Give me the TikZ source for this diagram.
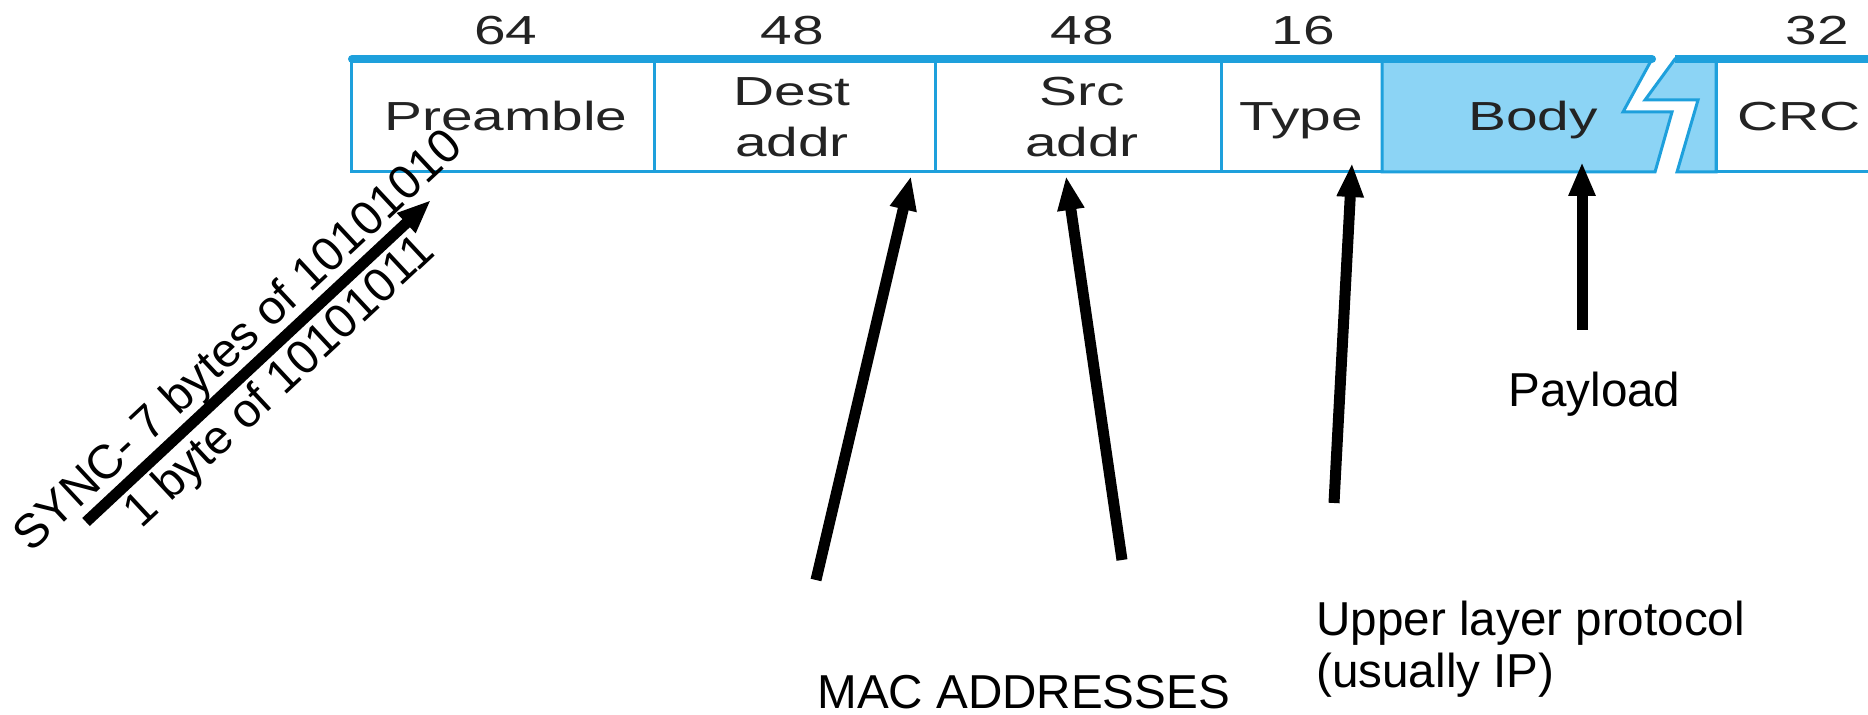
\documentclass[tikz,border=0pt]{standalone}
\usepackage{fontspec}
\setmainfont{Liberation Sans}
\usepackage{graphicx}
\usetikzlibrary{arrows.meta}
\definecolor{fblue}{RGB}{30,160,220}
\definecolor{bfill}{RGB}{140,212,245}
\definecolor{ftext}{RGB}{35,35,35}
\newcommand{\wide}[1]{\scalebox{1.40}[1]{#1}}
\begin{document}
\begin{tikzpicture}[x=0.5pt,y=-0.5pt,
  cell/.style={draw=fblue, line width=1.5pt, fill=white},
  bodycell/.style={draw=fblue, line width=1.5pt, fill=bfill, line join=miter},
  topline/.style={draw=fblue, line width=4pt},
  ftxt/.style={text=ftext, font=\fontsize{20.3}{25.5}\selectfont, inner sep=0pt, anchor=base},
  ftxtb/.style={text=ftext, font=\fontsize{20.3}{25.5}\selectfont, inner sep=0pt, align=center},
  lbl/.style={font=\fontsize{23.8}{26}\selectfont, inner sep=0pt, anchor=base west},
  lblc/.style={font=\fontsize{23.8}{26}\selectfont, inner sep=0pt},
  arr/.style={line width=5.5pt, -{Triangle[length=17pt,width=12.5pt]}},
]
\useasboundingbox (0,0) rectangle (1868,715);
\clip (0,0) rectangle (1868,715);

% frame cells
\draw[cell] (351,59) rectangle (654,172);
\draw[cell] (654,59) rectangle (935,172);
\draw[cell] (935,59) rectangle (1221,172);
\draw[cell] (1221,59) rectangle (1382,172);
\draw[bodycell] (1382,59) -- (1652,59) -- (1623,112) -- (1672,112) -- (1655,172) -- (1382,172) -- cycle;
\draw[bodycell] (1675,59) -- (1716,59) -- (1716,172) -- (1677,172) -- (1698,100) -- (1645,100) -- cycle;
\draw[cell] (1716,59) rectangle (1900,172);
\draw[topline, line cap=round] (352,59) -- (1652,59);
\draw[topline] (1675,59) -- (1900,59);

% field sizes
\node[ftxt] (n64) at (506,45) {\wide{64}};
\node[ftxt] (n48a) at (792,45) {\wide{48}};
\node[ftxt] (n48b) at (1082,45) {\wide{48}};
\node[ftxt] (n16) at (1303,45) {\wide{16}};
\node[ftxt] (n32) at (1817,45) {\wide{32}};

% field names
\node[ftxt] (pre) at (506,131) {\wide{Preamble}};
\node[ftxtb] (dest) at (792,117) {\wide{Dest}\\\wide{addr}};
\node[ftxtb] (src) at (1082,117) {\wide{Src}\\\wide{addr}};
\node[ftxt] (type) at (1301,131) {\wide{Type}};
\node[ftxt] (body) at (1533,131) {\wide{Body}};
\node[ftxt] (crc) at (1799,131) {\wide{CRC}};

% arrows
\coordinate (syT) at (86,522);
\coordinate (syH) at (431,200);
\coordinate (deT) at (816,580);
\coordinate (deH) at (911,176);
\coordinate (srT) at (1122,560);
\coordinate (srH) at (1066,176);
\coordinate (tyT) at (1334,503);
\coordinate (tyH) at (1352,163);
\coordinate (boT) at (1582,330);
\coordinate (boH) at (1582,162);
\draw[arr] (syT) -- (syH);
\draw[arr] (deT) -- (deH);
\draw[arr] (srT) -- (srH);
\draw[arr] (tyT) -- (tyH);
\draw[arr] (boT) -- (boH);

% labels
\node[lblc, rotate=43] (sync1) at (240,342) {SYNC- 7 bytes of 10101010};
\node[lblc, rotate=43] (sync2) at (281,383) {1 byte of 10101011};
\node[lbl] (mac) at (817,708) {MAC ADDRESSES};
\node[lblc, align=left, anchor=west] (upper) at (1316,649) {Upper layer protocol\\(usually IP)};
\node[lbl] (pay) at (1508,407) {Payload};
\end{tikzpicture}
\end{document}
